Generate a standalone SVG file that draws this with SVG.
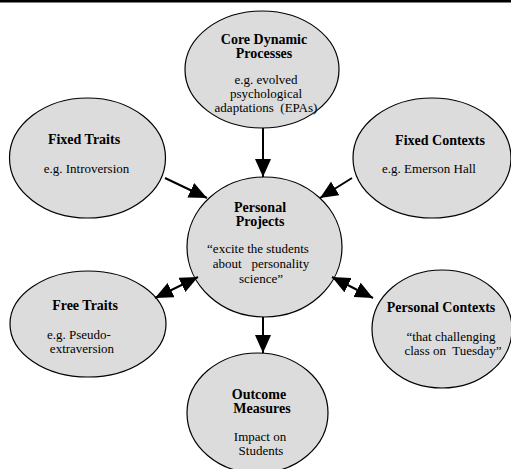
<svg xmlns="http://www.w3.org/2000/svg" width="511" height="469" viewBox="0 0 511 469">
<style>
.node ellipse{fill:#dcdcdc;stroke:#000;stroke-width:1.2}
text{font-family:"Liberation Serif","Times New Roman",serif;fill:#000;text-anchor:middle}
.t{font-size:14px;font-weight:bold}
.b{font-size:13px}
.conn line{stroke:#000;stroke-width:2}
</style>
<defs>
<marker id="ah" viewBox="0 0 18 16" refX="18" refY="8" markerWidth="18" markerHeight="16" markerUnits="userSpaceOnUse" orient="auto-start-reverse">
<path d="M0,0 L18,8 L0,16 z" fill="#000"/>
</marker>
</defs>
<rect x="0" y="0" width="511" height="2.5" fill="#000"/>
<g id="n-core" class="node">
<ellipse cx="262" cy="69.5" rx="77" ry="58.5"/>
<text class="t" x="264" y="44">Core Dynamic</text>
<text class="t" x="264" y="58">Processes</text>
<text class="b" x="266" y="84">e.g. evolved</text>
<text class="b" x="266" y="98">psychological</text>
<text class="b" x="266" y="112" xml:space="preserve">adaptations  (EPAs)</text>
</g>
<g id="n-fixed-traits" class="node">
<ellipse cx="87.5" cy="158" rx="78" ry="60"/>
<text class="t" x="84" y="144">Fixed Traits</text>
<text class="b" x="86.5" y="173">e.g. Introversion</text>
</g>
<g id="n-fixed-contexts" class="node">
<ellipse cx="432" cy="158" rx="79" ry="60"/>
<text class="t" x="440" y="145">Fixed Contexts</text>
<text class="b" x="429" y="173">e.g. Emerson Hall</text>
</g>
<g id="n-personal-projects" class="node">
<ellipse cx="264.5" cy="247" rx="77.5" ry="70"/>
<text class="t" x="260" y="212">Personal</text>
<text class="t" x="260" y="226">Projects</text>
<text class="b" x="258" y="253">“excite the students</text>
<text class="b" x="261" y="268" xml:space="preserve">about   personality</text>
<text class="b" x="261" y="283">science”</text>
</g>
<g id="n-free-traits" class="node">
<ellipse cx="88" cy="324" rx="78" ry="53"/>
<text class="t" x="85" y="310">Free Traits</text>
<text class="b" x="79" y="339">e.g. Pseudo-</text>
<text class="b" x="82" y="353">extraversion</text>
</g>
<g id="n-personal-contexts" class="node">
<ellipse cx="442" cy="329" rx="70" ry="59"/>
<text class="t" x="441" y="312">Personal Contexts</text>
<text class="b" x="451" y="341">“that challenging</text>
<text class="b" x="453" y="355" xml:space="preserve">class on  Tuesday”</text>
</g>
<g id="n-outcome" class="node">
<ellipse cx="257.5" cy="413" rx="70.5" ry="60"/>
<text class="t" x="259" y="399">Outcome</text>
<text class="t" x="262" y="413">Measures</text>
<text class="b" x="260" y="441">Impact on</text>
<text class="b" x="261" y="455">Students</text>
</g>
<g id="connectors" class="conn">
<line x1="263" y1="128" x2="263" y2="177" marker-end="url(#ah)"/>
<line x1="165" y1="178" x2="207" y2="198" marker-end="url(#ah)"/>
<line x1="352" y1="178" x2="320" y2="198" marker-end="url(#ah)"/>
<line x1="155" y1="298" x2="198" y2="277" marker-start="url(#ah)" marker-end="url(#ah)"/>
<line x1="332" y1="277" x2="373" y2="298" marker-start="url(#ah)" marker-end="url(#ah)"/>
<line x1="263" y1="317" x2="263" y2="353" marker-end="url(#ah)"/>
</g>
</svg>
